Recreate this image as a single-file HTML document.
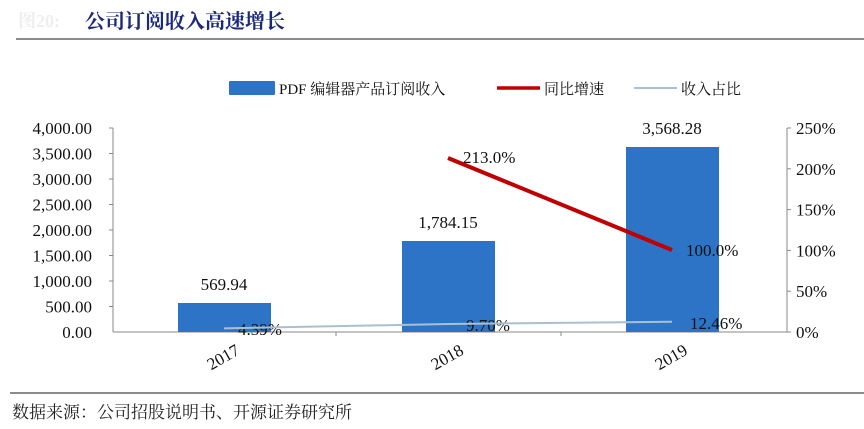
<!DOCTYPE html><html><head><meta charset="utf-8"><style>body{margin:0;background:#fff}</style></head><body>
<svg width="864" height="429" xmlns="http://www.w3.org/2000/svg" style="display:block">
<text x="18" y="27" font-family="Liberation Serif, Noto Serif CJK SC, serif" font-size="18" fill="#eeeeee" font-weight="bold">图20:</text>
<text x="85" y="28" font-family="Liberation Serif, Noto Serif CJK SC, serif" font-size="20" fill="#1c2a7c" font-weight="bold">公司订阅收入高速增长</text>
<line x1="16" y1="39" x2="864" y2="39" stroke="#666" stroke-width="1.5"/>
<line x1="10" y1="393" x2="864" y2="393" stroke="#666" stroke-width="1.5"/>
<text x="12" y="418" font-family="Liberation Serif, Noto Serif CJK SC, serif" font-size="17" fill="#222">数据来源：公司招股说明书、开源证券研究所</text>
<g font-family="Liberation Serif, Noto Serif CJK SC, serif" font-size="15" fill="#111">
<rect x="229" y="81" width="46" height="14" fill="#2e74c6" rx="1"/>
<text x="279" y="94">PDF 编辑器产品订阅收入</text>
<line x1="497" y1="88" x2="540" y2="88" stroke="#c00000" stroke-width="3.5"/>
<text x="544" y="94">同比增速</text>
<line x1="634" y1="88" x2="677" y2="88" stroke="#a8c0d0" stroke-width="2"/>
<text x="681" y="94">收入占比</text>
</g>
<g stroke="#888" stroke-width="1">
<line x1="113" y1="128" x2="113" y2="332"/><line x1="787" y1="128" x2="787" y2="332"/>
<line x1="113" y1="332" x2="787" y2="332"/>
<line x1="336" y1="332" x2="336" y2="336"/><line x1="561" y1="332" x2="561" y2="336"/>
<line x1="109" y1="128" x2="113" y2="128"/><line x1="109" y1="153.5" x2="113" y2="153.5"/><line x1="109" y1="179" x2="113" y2="179"/><line x1="109" y1="204.5" x2="113" y2="204.5"/><line x1="109" y1="230" x2="113" y2="230"/><line x1="109" y1="255.5" x2="113" y2="255.5"/><line x1="109" y1="281" x2="113" y2="281"/><line x1="109" y1="306.5" x2="113" y2="306.5"/>
<line x1="787" y1="128" x2="791" y2="128"/><line x1="787" y1="168.8" x2="791" y2="168.8"/><line x1="787" y1="209.6" x2="791" y2="209.6"/><line x1="787" y1="250.4" x2="791" y2="250.4"/><line x1="787" y1="291.2" x2="791" y2="291.2"/><line x1="787" y1="332" x2="791" y2="332"/>
</g>
<g fill="#2e74c6"><rect x="178" y="303" width="93" height="29"/><rect x="402" y="241" width="93" height="91"/><rect x="626" y="147" width="93" height="185"/></g>
<g font-family="Liberation Serif, serif" font-size="17" fill="#111">
<g text-anchor="end"><text x="92" y="134">4,000.00</text><text x="92" y="159.5">3,500.00</text><text x="92" y="185">3,000.00</text><text x="92" y="210.5">2,500.00</text><text x="92" y="236">2,000.00</text><text x="92" y="261.5">1,500.00</text><text x="92" y="287">1,000.00</text><text x="92" y="312.5">500.00</text><text x="92" y="338">0.00</text></g>
<text x="796" y="134">250%</text><text x="796" y="175">200%</text><text x="796" y="215.6">150%</text><text x="796" y="256.4">100%</text><text x="796" y="297">50%</text><text x="796" y="338">0%</text>
<text x="224" y="290" text-anchor="middle">569.94</text><text x="448" y="228" text-anchor="middle">1,784.15</text><text x="672" y="134" text-anchor="middle">3,568.28</text>
<text x="463" y="163">213.0%</text><text x="686" y="256">100.0%</text>
<text x="238" y="335">4.39%</text><text x="466" y="331">9.70%</text><text x="690" y="329">12.46%</text>
<text transform="translate(226,362) rotate(-30)" text-anchor="middle">2017</text><text transform="translate(450,362) rotate(-30)" text-anchor="middle">2018</text><text transform="translate(674,362) rotate(-30)" text-anchor="middle">2019</text>
</g>
<polyline points="448,158 672,250" stroke="#c00000" stroke-width="4" fill="none"/>
<polyline points="224,328.4 448,324 672,321.8" stroke="#a8c0d0" stroke-width="2" fill="none"/>
</svg></body></html>
